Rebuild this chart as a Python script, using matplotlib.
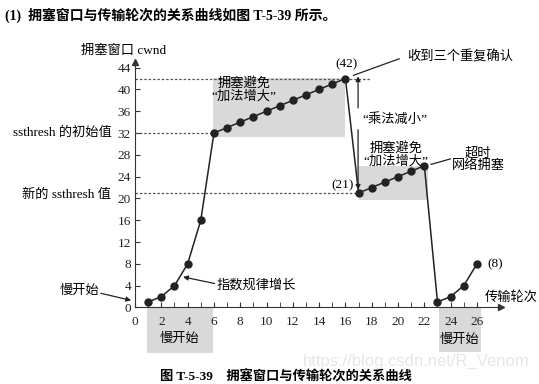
import matplotlib
matplotlib.use('Agg')
import matplotlib.pyplot as plt
from matplotlib.patches import Rectangle

plt.rcParams['font.family'] = ['Liberation Serif', 'Noto Sans CJK SC', 'DejaVu Sans']

# data
rounds = list(range(1, 27))
cwnd = [1, 2, 4, 8, 16, 32, 33, 34, 35, 36, 37, 38, 39, 40, 41, 42,
        21, 22, 23, 24, 25, 26, 1, 2, 4, 8]
x_ticks = list(range(0, 27, 2))
y_ticks = list(range(0, 45, 4))
ssthresh_init = 32
ssthresh_new = 21
peak = 42

fig = plt.figure(figsize=(5.39, 3.84), dpi=100)
ax = fig.add_axes([0, 0, 1, 1])
ax.set_xlim(-10.27, 30.72)
ax.set_ylim(-14.04, 56.4)

# axes through origin
for s in ['top', 'right']:
    ax.spines[s].set_visible(False)
ax.spines['left'].set_position(('data', 0))
ax.spines['bottom'].set_position(('data', 0))
ax.spines['left'].set_bounds(0, 45)
ax.spines['bottom'].set_bounds(0, 27.8)
ax.spines['left'].set_color('#333333')
ax.spines['bottom'].set_color('#333333')
ax.plot(0, 45, marker='^', color='#333333', markersize=4, clip_on=False)
ax.plot(27.8, 0, marker='>', color='#333333', markersize=4, clip_on=False)

ax.set_xticks(x_ticks)
ax.set_xticks(range(0, 27), minor=True)
ax.set_yticks(y_ticks)
ax.tick_params(axis='both', which='both', direction='in', length=3.5,
               color='#333333', labelsize=9.5, labelcolor='#222222')
ax.tick_params(axis='x', which='both', pad=6)
ax.tick_params(axis='y', pad=3)

# shaded phases
gray = '#d9d9d9'
ax.add_patch(Rectangle((5.9, 31.2), 10.1, 10.9, color=gray, lw=0, zorder=0))
ax.add_patch(Rectangle((17, 19.7), 5.3, 6.3, color=gray, lw=0, zorder=0))
ax.add_patch(Rectangle((0.9, -8.4), 5.0, 8.4, color=gray, lw=0, zorder=0, clip_on=False))
ax.add_patch(Rectangle((23.1, -8.1), 3.2, 8.1, color=gray, lw=0, zorder=0, clip_on=False))

# threshold guide lines
dash = dict(color='#555555', lw=0.9, ls=(0, (2, 1.5)))
ax.plot([0, 17.9], [peak, peak], **dash)
ax.plot([0, 6], [ssthresh_init, ssthresh_init], **dash)
ax.plot([0, 17], [ssthresh_new, ssthresh_new], **dash)

# curve
ax.plot(rounds, cwnd, color='#222222', lw=1.1, marker='o', markersize=5,
        markerfacecolor='#222222', zorder=3)

fs = 9.5
ax.text(-0.85, 47.0, '拥塞窗口 cwnd', ha='center', va='center', fontsize=fs)
ax.text(28.6, 1.8, '传输轮次', ha='center', va='center', fontsize=fs)
ax.text(-1.75, ssthresh_init, 'ssthresh 的初始值', ha='right', va='center', fontsize=fs)
ax.text(-1.8, 20.7, '新的 ssthresh 值', ha='right', va='center', fontsize=fs)

ax.text(8.3, 40.0, '拥塞避免\n“加法增大”', ha='center', va='center', fontsize=fs,
        linespacing=1.05)
ax.text(19.85, 28.0, '拥塞避免\n“加法增大”', ha='center', va='center', fontsize=fs,
        linespacing=1.05)
ax.text(26.1, 27.1, '超时\n网络拥塞', ha='center', va='center', fontsize=fs,
        linespacing=1.05)
ax.annotate('', xy=(22.3, 26.1), xytext=(24.2, 27.4),
            arrowprops=dict(arrowstyle='-', color='#222222', lw=0.9))

ax.text(20.7, 45.9, '收到三个重复确认', ha='left', va='center', fontsize=fs)
ax.annotate('', xy=(16.4, 42.4), xytext=(20.3, 45.8),
            arrowprops=dict(arrowstyle='-', color='#222222', lw=0.9))
ax.text(16.05, 44.7, '(42)', ha='center', va='center', fontsize=fs)
ax.text(15.75, 22.5, '(21)', ha='center', va='center', fontsize=fs)
ax.text(26.8, 8.0, '(8)', ha='left', va='center', fontsize=fs)

# multiplicative decrease arrows
ax.text(17.25, 34.4, '“乘法减小”', ha='left', va='center', fontsize=fs)
ax.annotate('', xy=(16.96, 42.4), xytext=(16.96, 36.6),
            arrowprops=dict(arrowstyle='-|>', color='#222222', lw=0.9,
                            mutation_scale=7, shrinkA=0, shrinkB=0))
ax.annotate('', xy=(16.96, 21.6), xytext=(16.96, 32.6),
            arrowprops=dict(arrowstyle='-|>', color='#222222', lw=0.9,
                            mutation_scale=7, shrinkA=0, shrinkB=0))

ax.text(6.2, 4.1, '指数规律增长', ha='left', va='center', fontsize=fs)
ax.annotate('', xy=(3.65, 5.6), xytext=(6.05, 4.4),
            arrowprops=dict(arrowstyle='-|>', color='#222222', lw=0.9,
                            mutation_scale=7, shrinkA=0, shrinkB=0))
ax.text(-4.2, 3.0, '慢开始', ha='center', va='center', fontsize=fs)
ax.annotate('', xy=(-0.3, 1.3), xytext=(-2.6, 2.6),
            arrowprops=dict(arrowstyle='-|>', color='#222222', lw=0.9,
                            mutation_scale=7, shrinkA=0, shrinkB=0))

ax.text(3.4, -5.8, '慢开始', ha='center', va='center', fontsize=fs)
ax.text(24.7, -6.0, '慢开始', ha='center', va='center', fontsize=fs)

# title, caption, watermark
fig.text(0.009, 0.961, '(1)  拥塞窗口与传输轮次的关系曲线如图 T-5-39 所示。',
         ha='left', va='center', fontsize=10, fontweight='bold')
fig.text(0.297, 0.018, '图 T-5-39    拥塞窗口与传输轮次的关系曲线',
         ha='left', va='center', fontsize=9.5, fontweight='bold')
fig.text(0.983, 0.058, 'https://blog.csdn.net/R_Venom', ha='right', va='center',
         fontsize=12, color='#e6e6e6', family='Liberation Sans')

fig.savefig('out.png', dpi=100)
